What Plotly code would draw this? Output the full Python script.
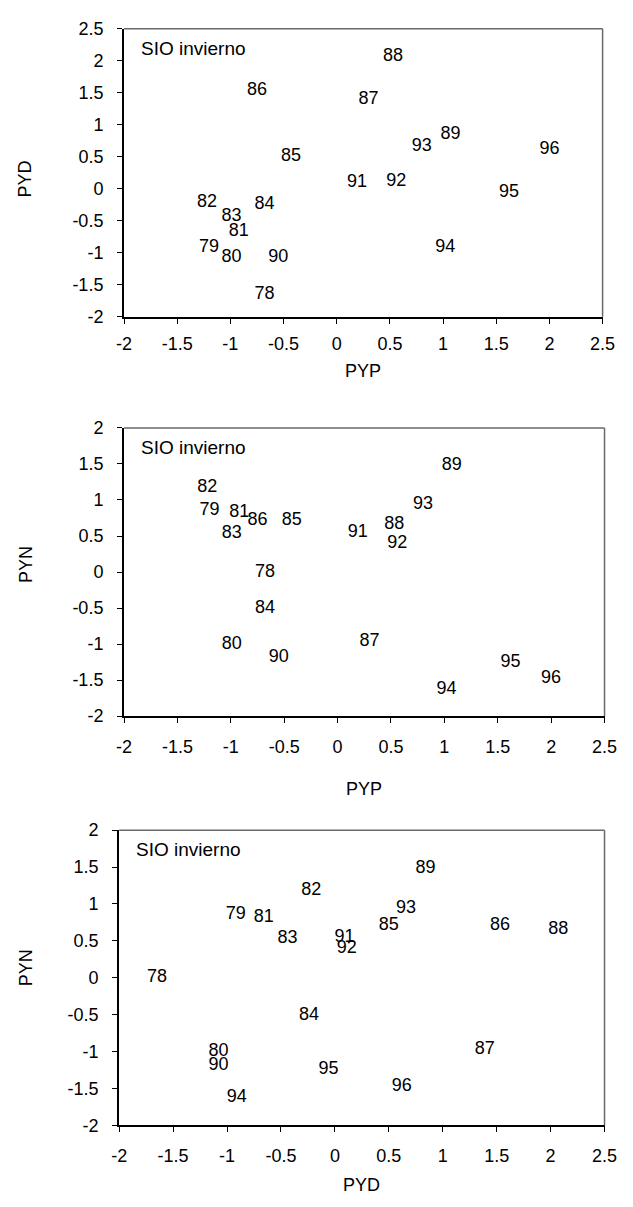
import plotly.graph_objects as go

years = ["78", "79", "80", "81", "82", "83", "84", "85", "86", "87",
         "88", "89", "90", "91", "92", "93", "94", "95", "96"]
PYP = [-0.68, -1.20, -0.99, -0.92, -1.22, -0.99, -0.68, -0.43, -0.75, 0.30,
       0.53, 1.07, -0.55, 0.19, 0.56, 0.80, 1.02, 1.62, 2.00]
PYD = [-1.65, -0.92, -1.08, -0.66, -0.22, -0.44, -0.24, 0.50, 1.53, 1.39,
       2.07, 0.84, -1.08, 0.09, 0.11, 0.66, -0.91, -0.06, 0.62]
PYN = [0.00, 0.86, -1.00, 0.82, 1.18, 0.53, -0.51, 0.71, 0.71, -0.97,
       0.66, 1.48, -1.19, 0.55, 0.39, 0.94, -1.63, -1.25, -1.48]

tick_vals = [-2, -1.5, -1, -0.5, 0, 0.5, 1, 1.5, 2, 2.5]
tick_text = ["-2", "-1.5", "-1", "-0.5", "0", "0.5", "1", "1.5", "2", "2.5"]
panel_label = "SIO invierno"

W, H = 633, 1207
FONT = "Arial, Liberation Sans, sans-serif"

# panels: (x data, y data, x title, y title, y max, px box left,right,top,bottom)
panels = [
    (PYP, PYD, "PYP", "PYD", 2.5, (120, 615, 19, 312)),
    (PYP, PYN, "PYP", "PYN", 2.0, (120, 617, 425, 718)),
    (PYD, PYN, "PYD", "PYN", 2.0, (115, 617, 834, 1134)),
]
xtitle_off = [55, 74, 61]
xstandoff = [5, 8, 8]
ytitle_y = [172, 564, 974]

fig = go.Figure()
shapes = []
annotations = []
for i, (xs, ys, xt, yt, ymax, (l, r, t, b)) in enumerate(panels):
    n = i + 1
    xa = "x" if n == 1 else f"x{n}"
    ya = "y" if n == 1 else f"y{n}"
    fig.add_trace(go.Scatter(
        x=xs, y=ys, text=years, mode="text", textposition="middle center",
        textfont=dict(family=FONT, size=18, color="black"),
        xaxis=xa, yaxis=ya, showlegend=False, hoverinfo="skip", cliponaxis=False))
    yvals = [v for v in tick_vals if v <= ymax]
    ytext = [tick_text[tick_vals.index(v)] for v in yvals]
    axis_common = dict(showgrid=False, zeroline=False, showline=True,
                       linecolor="black", linewidth=2, ticks="outside",
                       ticklen=5, tickwidth=1, tickcolor="black",
                       tickfont=dict(family=FONT, size=18, color="black"),
                       fixedrange=True)
    fig.update_layout(**{
        ("xaxis" if n == 1 else f"xaxis{n}"): dict(
            domain=[l / W, r / W], range=[-2, 2.5], anchor=ya,
            tickvals=tick_vals, ticktext=tick_text,
            ticklabelstandoff=xstandoff[i], **axis_common),
        ("yaxis" if n == 1 else f"yaxis{n}"): dict(
            domain=[1 - b / H, 1 - t / H], range=[-2, ymax], anchor=xa,
            tickvals=yvals, ticktext=ytext, ticklabelstandoff=10,
            **axis_common),
    })
    # top and right border
    shapes.append(dict(type="line", xref="paper", yref="paper",
                       x0=l / W, x1=r / W, y0=1 - t / H, y1=1 - t / H,
                       line=dict(color="#6a6a6a", width=1.5)))
    shapes.append(dict(type="line", xref="paper", yref="paper",
                       x0=r / W, x1=r / W, y0=1 - t / H, y1=1 - b / H,
                       line=dict(color="#6a6a6a", width=1.5)))
    annotations.append(dict(text=panel_label, xref="paper", yref="paper",
                            x=(l + 15) / W, y=1 - (t + 20) / H,
                            xanchor="left", yanchor="middle", showarrow=False,
                            font=dict(family=FONT, size=19, color="black")))
    annotations.append(dict(text=xt, xref="paper", yref="paper",
                            x=(l + r) / 2 / W, y=1 - (b + xtitle_off[i]) / H,
                            xanchor="center", yanchor="middle", showarrow=False,
                            font=dict(family=FONT, size=18, color="black")))
    annotations.append(dict(text=yt, xref="paper", yref="paper",
                            x=18 / W, y=1 - ytitle_y[i] / H, textangle=-90,
                            xanchor="center", yanchor="middle", showarrow=False,
                            font=dict(family=FONT, size=18, color="black")))

fig.update_layout(width=W, height=H, margin=dict(l=0, r=0, t=0, b=0),
                  paper_bgcolor="white", plot_bgcolor="white",
                  shapes=shapes, annotations=annotations)
fig.write_html("out.html", config={"displayModeBar": False},
               post_script="document.body.style.margin='0';document.body.style.padding='0';")
